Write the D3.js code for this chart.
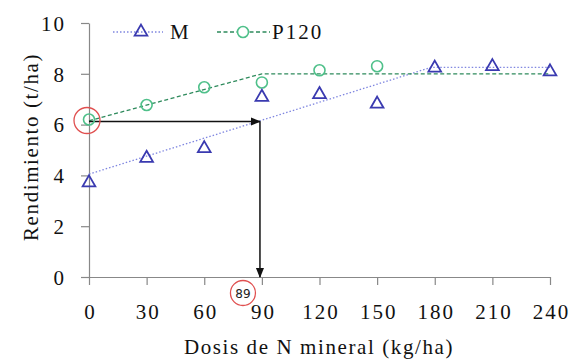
<!DOCTYPE html>
<html>
<head>
<meta charset="utf-8">
<script src="https://cdn.jsdelivr.net/npm/d3@7"></script>
<style>
  body { margin: 0; background: #fff; }
</style>
</head>
<body>
<script>
// dosis de N (kg/ha)
const dosis = [0, 30, 60, 90, 120, 150, 180, 210, 240];
// rendimiento M (triangulos)
const rendM = [3.75, 4.72, 5.1, 7.12, 7.23, 6.85, 8.27, 8.33, 8.12];
// rendimiento P120 (circulos), solo hasta 150
const dosisP = [0, 30, 60, 90, 120, 150];
const rendP = [6.2, 6.77, 7.47, 7.66, 8.14, 8.3];
// ajustes lineal-plateau
const ajusteM = [[0, 4.05], [178, 8.25], [240, 8.25]];
const ajusteP = [[0, 6.15], [90, 8.0], [240, 8.0]];
// optimo leido
const optDosis = 89, optRend = 6.12;
const xTicks = [0, 30, 60, 90, 120, 150, 180, 210, 240];
const yTicks = [0, 2, 4, 6, 8, 10];

const SERIF = "'Liberation Serif', 'Times New Roman', serif";
const W = 575, H = 361;
const margin = {top: 23, right: 25, bottom: 84, left: 89};
const width = W - margin.left - margin.right,
      height = H - margin.top - margin.bottom;

const svg = d3.select("body").append("svg")
    .attr("width", W).attr("height", H);

svg.append("defs").append("marker")
    .attr("id", "arrow")
    .attr("viewBox", "0 0 10 10")
    .attr("refX", 9).attr("refY", 5)
    .attr("markerWidth", 7).attr("markerHeight", 7)
    .attr("orient", "auto")
  .append("path")
    .attr("d", "M0,1L10,5L0,9Z")
    .attr("fill", "#111");

const g = svg.append("g")
    .attr("transform", "translate(" + margin.left + "," + margin.top + ")");

const x = d3.scaleLinear().domain([0, 240]).range([0, width]);
const y = d3.scaleLinear().domain([0, 10]).range([height, 0]);

// ejes
const xAxis = g.append("g")
    .attr("transform", "translate(0," + height + ")")
    .call(d3.axisBottom(x).tickValues(xTicks).tickSize(8).tickPadding(19).tickSizeOuter(0));
const yAxis = g.append("g")
    .call(d3.axisLeft(y).tickValues(yTicks).tickSize(8).tickPadding(10).tickSizeOuter(0));

[xAxis, yAxis].forEach(a => {
  a.attr("font-family", SERIF).attr("font-size", 21);
  a.select(".domain").attr("stroke", "#888").attr("stroke-width", 1.2);
  a.selectAll(".tick line").attr("stroke", "#888").attr("stroke-width", 1.2);
  a.selectAll(".tick text").attr("fill", "#111").attr("letter-spacing", 2);
});
yAxis.selectAll(".tick text").attr("dy", "0.35em").attr("x", -23);
xAxis.selectAll(".tick text").attr("dx", 1);
xAxis.selectAll(".tick line").attr("y1", 0).attr("y2", 8);

// lineas de ajuste
const line = d3.line().x(d => x(d[0])).y(d => y(d[1]));
g.append("path").datum(ajusteM)
    .attr("d", line).attr("fill", "none")
    .attr("stroke", "#7f86e0").attr("stroke-width", 1.3)
    .attr("stroke-dasharray", "1.5,2");
g.append("path").datum(ajusteP)
    .attr("d", line).attr("fill", "none")
    .attr("stroke", "#2e8a5c").attr("stroke-width", 1.3)
    .attr("stroke-dasharray", "4,2.5");

// flechas
g.append("line")
    .attr("x1", x(0)).attr("y1", y(optRend))
    .attr("x2", x(optDosis)).attr("y2", y(optRend))
    .attr("stroke", "#111").attr("stroke-width", 1.5)
    .attr("marker-end", "url(#arrow)");
g.append("line")
    .attr("x1", x(optDosis)).attr("y1", y(optRend))
    .attr("x2", x(optDosis)).attr("y2", y(0))
    .attr("stroke", "#111").attr("stroke-width", 1.5)
    .attr("marker-end", "url(#arrow)");

// puntos P120
g.selectAll(".circP").data(dosisP)
  .enter().append("circle")
    .attr("cx", d => x(d))
    .attr("cy", (d, i) => y(rendP[i]))
    .attr("r", 5.5)
    .attr("fill", "none")
    .attr("stroke", "#4fc08a").attr("stroke-width", 1.6);

// puntos M
const tri = d3.symbol().type(d3.symbolTriangle).size(70);
g.selectAll(".triM").data(dosis)
  .enter().append("path")
    .attr("d", tri)
    .attr("transform", (d, i) => "translate(" + x(d) + "," + (y(rendM[i]) + 1) + ")")
    .attr("fill", "none")
    .attr("stroke", "#3a3ab0").attr("stroke-width", 1.8);

// circulos rojos
g.append("circle")
    .attr("cx", x(0) - 2).attr("cy", y(rendP[0]) + 1)
    .attr("r", 13)
    .attr("fill", "none").attr("stroke", "#e05050").attr("stroke-width", 1.3);
g.append("circle")
    .attr("cx", x(optDosis) - 17).attr("cy", height + 16)
    .attr("r", 12.5)
    .attr("fill", "white").attr("stroke", "#e05050").attr("stroke-width", 1.3);
g.append("text")
    .attr("x", x(optDosis) - 17).attr("y", height + 20.5)
    .attr("text-anchor", "middle")
    .attr("font-family", "'DejaVu Sans', sans-serif")
    .attr("font-size", 12)
    .attr("fill", "#222")
    .text(optDosis);

// leyenda
const leg = svg.append("g").attr("font-family", SERIF).attr("font-size", 21).attr("fill", "#111");
leg.append("line").attr("x1", 113).attr("x2", 163).attr("y1", 32).attr("y2", 32)
    .attr("stroke", "#7f86e0").attr("stroke-width", 1.3).attr("stroke-dasharray", "1.5,2");
leg.append("path").attr("d", tri).attr("transform", "translate(141,32)")
    .attr("fill", "none").attr("stroke", "#3a3ab0").attr("stroke-width", 1.8);
leg.append("text").attr("x", 170).attr("y", 39).attr("letter-spacing", 2).text("M");
leg.append("line").attr("x1", 217).attr("x2", 270).attr("y1", 32).attr("y2", 32)
    .attr("stroke", "#2e8a5c").attr("stroke-width", 1.3).attr("stroke-dasharray", "4,2.5");
leg.append("circle").attr("cx", 243).attr("cy", 32).attr("r", 5.5)
    .attr("fill", "white").attr("stroke", "#4fc08a").attr("stroke-width", 1.6);
leg.append("text").attr("x", 272).attr("y", 39).attr("letter-spacing", 2).text("P120");

// titulos
svg.append("text")
    .attr("x", 319).attr("y", 354)
    .attr("text-anchor", "middle")
    .attr("font-family", SERIF).attr("font-size", 21).attr("fill", "#111")
    .attr("letter-spacing", 1.6)
    .text("Dosis de N mineral  (kg/ha)");
svg.append("text")
    .attr("transform", "translate(38,147) rotate(-90)")
    .attr("text-anchor", "middle")
    .attr("font-family", SERIF).attr("font-size", 21).attr("fill", "#111")
    .attr("letter-spacing", 1.6)
    .text("Rendimiento  (t/ha)");
</script>
</body>
</html>
